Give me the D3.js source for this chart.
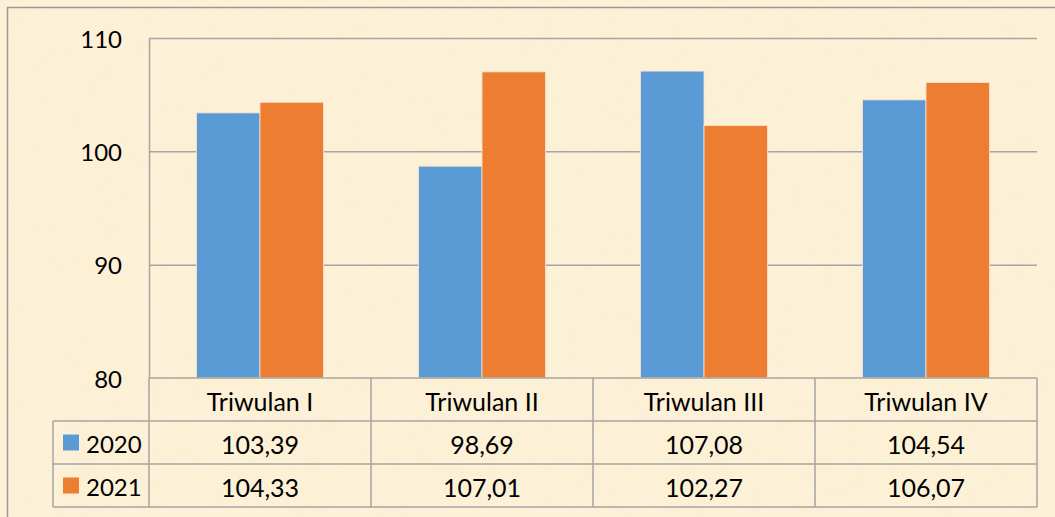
<!DOCTYPE html>
<html>
<head>
<meta charset="utf-8">
<script src="https://cdn.jsdelivr.net/npm/d3@7"></script>
<style>
  body { margin: 0; background: #fcf0d5; }
  text { font-family: Lato, "Open Sans", sans-serif; fill: #000; }
</style>
</head>
<body>
<svg id="chart" width="1055" height="517"></svg>
<script>
const categories = ["Triwulan I", "Triwulan II", "Triwulan III", "Triwulan IV"];
const seriesNames = ["2020", "2021"];
const values2020 = [103.39, 98.69, 107.08, 104.54];
const values2021 = [104.33, 107.01, 102.27, 106.07];
const yTicks = [80, 90, 100, 110];
const colors = ["#5b9bd5", "#ed7d31"];

const svg = d3.select("#chart");
const W = 1055, H = 517;

// background with a soft paper texture
const defs = svg.append("defs");
const f = defs.append("filter").attr("id", "paper").attr("x", 0).attr("y", 0).attr("width", "100%").attr("height", "100%");
f.append("feTurbulence").attr("type", "fractalNoise").attr("baseFrequency", 0.03).attr("numOctaves", 3).attr("seed", 4).attr("result", "n");
f.append("feColorMatrix").attr("in", "n").attr("type", "matrix")
  .attr("values", "0 0 0 0 0.97  0 0 0 0 0.90  0 0 0 0 0.72  0 0 0 0.35 0");

svg.append("rect").attr("width", W).attr("height", H).attr("fill", "#fcf0d5");
svg.append("rect").attr("width", W).attr("height", H).attr("filter", "url(#paper)").attr("opacity", 0.5);

// outer frame
svg.append("path")
  .attr("d", `M7.5,${H + 5} V7.5 H${W + 5}`)
  .attr("fill", "none").attr("stroke", "#999").attr("stroke-width", 1.5);

const plot = { left: 149, right: 1037, top: 38, bottom: 378 };
const rowH = 43;
const tableLeft = 53;

const y = d3.scaleLinear().domain([80, 110]).range([plot.bottom, plot.top]);
const x = d3.scaleBand().domain(categories).range([plot.left, plot.right]);
const bw = x.bandwidth();
const xs = d3.scaleBand().domain(seriesNames).range([bw * 0.214, bw * 0.786]);

const gridColor = "#a6a6a6";

// gridlines
svg.append("g").selectAll("line")
  .data(yTicks.slice(1))
  .join("line")
  .attr("x1", plot.left).attr("x2", plot.right)
  .attr("y1", d => y(d) + 0.5).attr("y2", d => y(d) + 0.5)
  .attr("stroke", gridColor).attr("stroke-width", 1.5);

svg.append("line")
  .attr("x1", plot.left + 0.5).attr("x2", plot.left + 0.5)
  .attr("y1", plot.top).attr("y2", plot.bottom)
  .attr("stroke", gridColor).attr("stroke-width", 1.5);

// y labels
svg.append("g").selectAll("text")
  .data(yTicks)
  .join("text")
  .attr("x", 122).attr("y", d => y(d))
  .attr("text-anchor", "end").attr("dominant-baseline", "central")
  .attr("font-size", 24)
  .text(d => d);

// bars
const rows = [values2020, values2021];
seriesNames.forEach((s, si) => {
  svg.append("g").selectAll("rect")
    .data(categories)
    .join("rect")
    .attr("x", c => x(c) + xs(s))
    .attr("y", (c, i) => y(rows[si][i]))
    .attr("width", xs.bandwidth())
    .attr("height", (c, i) => y(80) - y(rows[si][i]))
    .attr("fill", colors[si])
    .attr("stroke", "#fbe3cf").attr("stroke-width", 0.8);
});

// data table
const tbl = svg.append("g").attr("stroke", gridColor).attr("stroke-width", 1.5);
const yTop = plot.bottom;
tbl.append("line").attr("x1", plot.left).attr("x2", plot.right).attr("y1", yTop).attr("y2", yTop);
[1, 2, 3].forEach(r => {
  tbl.append("line").attr("x1", tableLeft).attr("x2", plot.right)
    .attr("y1", yTop + r * rowH).attr("y2", yTop + r * rowH);
});
tbl.append("line").attr("x1", tableLeft).attr("x2", tableLeft)
  .attr("y1", yTop + rowH).attr("y2", yTop + 3 * rowH);
categories.concat([null]).forEach((c, i) => {
  const xx = c ? x(c) : plot.right;
  tbl.append("line").attr("x1", xx).attr("x2", xx).attr("y1", yTop).attr("y2", yTop + 3 * rowH);
});

// header
svg.append("g").selectAll("text")
  .data(categories)
  .join("text")
  .attr("x", c => x(c) + bw / 2).attr("y", yTop + rowH / 2 + 1)
  .attr("text-anchor", "middle").attr("dominant-baseline", "central")
  .attr("font-size", 25)
  .text(c => c);

const fmt = v => d3.format(".2f")(v).replace(".", ",");
seriesNames.forEach((s, si) => {
  const cy = yTop + rowH * (si + 1) + rowH / 2;
  svg.append("rect")
    .attr("x", 63).attr("y", cy - 8).attr("width", 16).attr("height", 16)
    .attr("fill", colors[si]);
  svg.append("text")
    .attr("x", 86).attr("y", cy + 1)
    .attr("dominant-baseline", "central").attr("font-size", 24)
    .text(s);
  svg.append("g").selectAll("text")
    .data(categories)
    .join("text")
    .attr("x", c => x(c) + bw / 2).attr("y", cy + 1)
    .attr("text-anchor", "middle").attr("dominant-baseline", "central")
    .attr("font-size", 25)
    .text((c, i) => fmt(rows[si][i]));
});
</script>
</body>
</html>
